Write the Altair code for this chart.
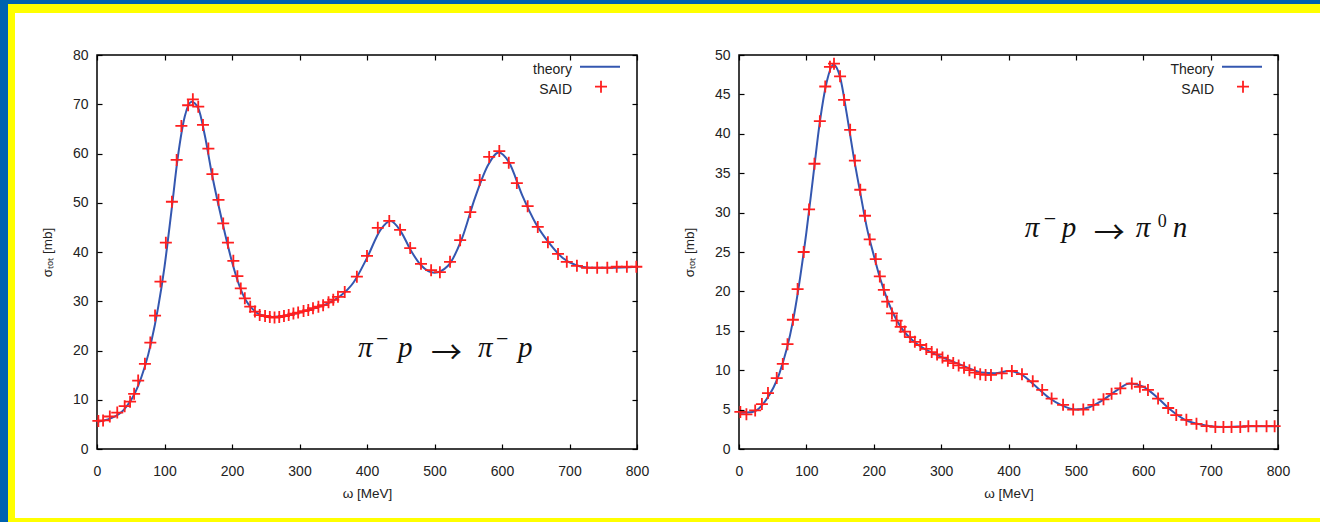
import altair as alt
import pandas as pd

# ---------------- data ----------------
# Left panel: pi- p -> pi- p
said1_mev = [2, 9, 19, 30, 41, 49, 55, 61, 71, 79, 86, 94, 102, 111, 118, 125, 135, 142, 150, 157,
             165, 171, 180, 187, 194, 202, 208, 213, 219, 227, 234, 241, 249, 256, 263, 270, 277, 284,
             291, 298, 306, 313, 320, 328, 335, 343, 350, 357, 367, 385, 400, 416, 433, 449, 464, 480,
             495, 508, 523, 538, 553, 567, 581, 596, 610, 622, 638, 653, 668, 683, 696, 711, 726, 741,
             756, 770, 785, 799]
said1_sigma = [5.7, 5.8, 6.6, 7.4, 8.7, 9.6, 11.2, 13.9, 17.3, 21.6, 27.1, 34.0, 41.9, 50.2, 58.7, 65.6,
               69.8, 71.0, 69.5, 65.8, 61.0, 55.8, 50.6, 45.8, 41.9, 38.2, 35.1, 32.6, 30.6, 28.9, 27.9,
               27.2, 27.0, 26.8, 26.7, 26.8, 27.0, 27.2, 27.5, 27.7, 28.0, 28.2, 28.6, 28.9, 29.2, 29.8,
               30.3, 30.9, 31.9, 35.0, 39.2, 44.9, 46.3, 44.5, 40.8, 37.6, 36.3, 35.9, 38.0, 42.4, 48.1,
               54.6, 59.3, 60.5, 58.1, 54.0, 49.3, 45.1, 42.0, 39.6, 38.0, 37.2, 36.8, 36.8, 36.8, 37.0,
               37.0, 37.0]
theory1_mev = [0, 20, 40, 60, 80, 100, 110, 120, 130, 140, 150, 160, 170, 180, 190, 200, 210, 220, 230,
               240, 260, 280, 300, 320, 340, 360, 380, 400, 420, 435, 450, 465, 480, 500, 520, 540, 560,
               580, 595, 610, 630, 650, 670, 690, 710, 730, 760, 800]
theory1_sigma = [5.5, 6.2, 8.0, 12.5, 21.5, 37.0, 48.0, 59.5, 67.5, 70.5, 69.2, 63.5, 56.0, 49.5, 43.5,
                 38.0, 33.5, 30.3, 28.5, 27.4, 26.8, 27.1, 27.7, 28.5, 29.4, 31.0, 33.8, 38.8, 44.5, 46.3,
                 44.2, 40.3, 37.3, 35.8, 37.2, 42.5, 51.0, 57.8, 60.2, 58.3, 51.5, 45.8, 41.8, 38.8, 37.3,
                 36.8, 36.8, 37.0]

# Right panel: pi- p -> pi0 n
said2_mev = [2, 11, 24, 34, 43, 56, 65, 72, 80, 87, 96, 104, 112, 120, 128, 135, 141, 150, 156, 165,
             172, 180, 187, 194, 203, 209, 215, 220, 227, 234, 240, 246, 254, 261, 269, 278, 286, 294,
             302, 310, 318, 326, 334, 342, 350, 358, 366, 374, 390, 405, 420, 436, 450, 464, 481, 496,
             511, 526, 541, 553, 566, 583, 595, 607, 622, 637, 649, 664, 679, 694, 707, 719, 731, 744,
             756, 768, 783, 795]
said2_sigma = [4.7, 4.4, 4.9, 5.7, 7.1, 9.0, 10.8, 13.3, 16.4, 20.3, 25.0, 30.4, 36.2, 41.6, 46.0, 48.5,
               48.9, 47.3, 44.3, 40.5, 36.6, 32.9, 29.6, 26.6, 24.1, 21.9, 20.2, 18.7, 17.2, 16.3, 15.5,
               14.9, 14.2, 13.6, 13.2, 12.7, 12.3, 12.0, 11.6, 11.2, 10.9, 10.6, 10.3, 10.0, 9.7, 9.5,
               9.4, 9.4, 9.6, 9.9, 9.5, 8.6, 7.5, 6.4, 5.6, 5.0, 5.0, 5.6, 6.3, 7.0, 7.7, 8.3, 7.9, 7.5,
               6.4, 5.2, 4.3, 3.7, 3.2, 2.9, 2.8, 2.8, 2.8, 2.8, 2.9, 2.9, 2.9, 2.9]
theory2_mev = [0, 20, 40, 60, 80, 100, 110, 120, 130, 140, 150, 160, 170, 180, 190, 200, 210, 220, 240,
               260, 280, 300, 320, 340, 360, 380, 400, 420, 440, 460, 480, 500, 520, 540, 560, 580, 600,
               620, 640, 660, 680, 700, 720, 760, 800]
theory2_sigma = [4.6, 4.7, 6.2, 9.6, 16.2, 27.5, 34.5, 41.5, 46.5, 48.8, 47.2, 42.5, 37.2, 32.5, 28.0,
                 24.6, 21.5, 19.0, 15.5, 13.6, 12.5, 11.7, 11.0, 10.3, 9.7, 9.6, 9.9, 9.4, 8.0, 6.5, 5.5,
                 5.0, 5.3, 6.2, 7.4, 8.3, 7.9, 6.6, 5.0, 3.8, 3.2, 2.9, 2.8, 2.9, 2.9]

x_ticks = [0, 100, 200, 300, 400, 500, 600, 700, 800]
y1_ticks = [0, 10, 20, 30, 40, 50, 60, 70, 80]
y2_ticks = [0, 5, 10, 15, 20, 25, 30, 35, 40, 45, 50]

x_title = "ω [MeV]"
y_title = "σₜₒₜ [mb]"
# reaction labels, split into glyph groups: (text, kind)
formula1 = [("π", "it"), ("−", "supm"), ("p", "it"), ("→", "arrow"), ("π", "it"), ("−", "supm"), ("p", "it")]
formula2 = [("π", "it"), ("−", "supm"), ("p", "it"), ("→", "arrow"), ("π", "it"), ("0", "sup"), ("n", "it")]

# ---------------- styles ----------------
W, H = 540, 394
BLUE = "#3457b0"
RED = "#ff1f1f"
SANS = "Liberation Sans"
SERIF = "Liberation Serif"
PLUS = "M-1,0H1M0,-1V1"
TXT = "#222222"

# pixel offsets of each glyph group from the label anchor (left end, on the baseline)
formula1_dx = [0, 18, 40, 73, 120, 138, 160]
formula2_dx = [0, 19, 37, 69, 111, 133, 148]
KIND_STYLE = {
    "it": dict(font=SERIF, fontSize=29, fontStyle="italic", dy=0),
    "supm": dict(font=SERIF, fontSize=22, fontStyle="normal", dy=-11),
    "sup": dict(font=SERIF, fontSize=18, fontStyle="normal", dy=-10),
    "arrow": dict(font="Noto Sans CJK JP", fontSize=31, fontStyle="normal", dy=6),
}

AX = dict(zindex=1, domain=False, tickSize=5, offset=-5, tickColor="black", tickWidth=1.2,
          grid=False, labelFlush=False, labelOverlap=False, labelFont=SANS, labelFontSize=14,
          labelColor=TXT, titleFont=SANS, titleFontSize=13.5, titleColor=TXT, titleFontWeight="normal")

one = pd.DataFrame({"k": [0]})


def panel(sx, sy, tx, ty, ymax, yticks, lab, formula, fdx, fx, fy, frame):
    xs = alt.Scale(domain=[0, 800], nice=False, zero=False)
    ys = alt.Scale(domain=[0, ymax], nice=False, zero=False)
    said = pd.DataFrame({"w": sx, "s": sy})
    theo = pd.DataFrame({"w": tx, "s": ty})
    layers = []
    if frame:
        # slide background: blue edge, yellow edge, white interior (offsets relative to this view)
        for x0, y0, x1, y1, c in [(-97, -55, 1223, 467, "#0062b0"),
                                   (-89, -51, 1223, 467, "#ffff00"),
                                   (-82, -42, 1223, 463, "#ffffff")]:
            layers.append(alt.Chart(one).mark_rect(color=c, strokeWidth=0).encode(
                x=alt.value(x0), x2=alt.value(x1), y=alt.value(y0), y2=alt.value(y1)))
    border = alt.Chart(one).mark_rect(filled=False, stroke="black", strokeWidth=1.5).encode(
        x=alt.value(0), x2=alt.value("width"), y=alt.value(0), y2=alt.value("height"))
    line = alt.Chart(theo).mark_line(color=BLUE, strokeWidth=2, interpolate="monotone").encode(
        x=alt.X("w:Q", scale=xs, axis=alt.Axis(orient="bottom", values=x_ticks, title=x_title,
                                               labelPadding=15, titlePadding=8, **AX)),
        y=alt.Y("s:Q", scale=ys, axis=alt.Axis(orient="left", values=yticks, title=y_title,
                                               labelPadding=9, titlePadding=18, **AX)))
    pts = alt.Chart(said).mark_point(shape=PLUS, size=144, color=RED, filled=False,
                                     strokeWidth=1.8, opacity=1).encode(
        x=alt.X("w:Q", scale=xs, axis=alt.Axis(orient="top", values=x_ticks, labels=False, title="", **AX)),
        y=alt.Y("s:Q", scale=ys, axis=alt.Axis(orient="right", values=yticks, labels=False, title="", **AX)))
    anns = []
    for (txt, kind), dx in zip(formula, fdx):
        st = KIND_STYLE[kind]
        anns.append(alt.Chart(pd.DataFrame({"w": [fx], "s": [fy], "t": [txt]})).mark_text(
            font=st["font"], fontSize=st["fontSize"], fontStyle=st["fontStyle"], color="#111111",
            baseline="alphabetic", align="left", dx=dx, dy=st["dy"]).encode(
            x=alt.X("w:Q", scale=xs, axis=None), y=alt.Y("s:Q", scale=ys, axis=None), text="t:N"))
    leg = [
        alt.Chart(one).mark_text(text=lab, align="right", baseline="alphabetic", font=SANS,
                                 fontSize=14, color=TXT).encode(x=alt.value(475), y=alt.value(19)),
        alt.Chart(one).mark_text(text="SAID", align="right", baseline="alphabetic", font=SANS,
                                 fontSize=14, color=TXT).encode(x=alt.value(475), y=alt.value(39)),
        alt.Chart(one).mark_rule(color=BLUE, strokeWidth=2).encode(
            x=alt.value(483), x2=alt.value(523), y=alt.value(11.7)),
        alt.Chart(one).mark_point(shape=PLUS, size=144, color=RED, filled=False, strokeWidth=1.8,
                                  opacity=1).encode(x=alt.value(504), y=alt.value(31.7)),
    ]
    layers += [border, line, pts] + anns + leg
    return alt.layer(*layers).resolve_axis(x="independent", y="independent").properties(width=W, height=H)


# anchors of the reaction labels (left end of text, baseline) in data units
left = panel(said1_mev, said1_sigma, theory1_mev, theory1_sigma, 80, y1_ticks, "theory",
             formula1, formula1_dx, 386.7, 18.7, True)
right = panel(said2_mev, said2_sigma, theory2_mev, theory2_sigma, 50, y2_ticks, "Theory",
              formula2, formula2_dx, 424.3, 26.9, False)
right = right.properties(width=539)

chart = alt.hconcat(left, right, spacing=102, bounds="flush").configure_view(strokeWidth=0).properties(padding=0)

chart.save("out.html", embed_options={"renderer": "svg", "actions": False})
